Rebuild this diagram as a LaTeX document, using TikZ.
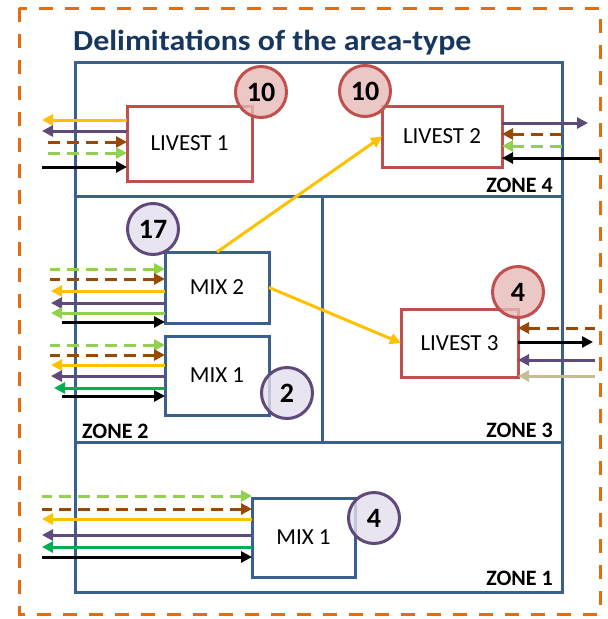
\documentclass[tikz,border=0pt]{standalone}
\usepackage{fontspec}
\setmainfont{Carlito}
\usetikzlibrary{arrows.meta}

\definecolor{zoneblue}{HTML}{3B5F8F}
\definecolor{titleblue}{HTML}{17375E}
\definecolor{livred}{HTML}{C0504D}
\definecolor{livpink}{HTML}{E6B9B8}
\definecolor{mixpur}{HTML}{5F497A}
\definecolor{mixlav}{HTML}{E4DFEC}
\definecolor{orng}{HTML}{E46C0A}
\definecolor{yel}{HTML}{FFC000}
\definecolor{pur}{HTML}{604A7B}
\definecolor{brn}{HTML}{984807}
\definecolor{lgr}{HTML}{92D050}
\definecolor{grn}{HTML}{00B050}
\definecolor{tan}{HTML}{C4BD97}

\begin{document}
\begin{tikzpicture}[x=1pt, y=-1pt,
    zone/.style={draw=zoneblue, line width=3pt},
    livbox/.style={draw=livred, line width=3pt, fill=white, outer sep=0pt,
                   font=\fontsize{23}{25}\selectfont},
    mixbox/.style={draw=zoneblue, line width=3pt, fill=white, outer sep=0pt,
                   font=\fontsize{23}{25}\selectfont},
    livnum/.style={circle, draw=livred, fill=livpink, fill opacity=0.8, text opacity=1,
                   line width=3pt, minimum size=51pt, inner sep=0pt,
                   font=\bfseries\fontsize{28}{30}\selectfont},
    mixnum/.style={circle, draw=mixpur, fill=mixlav, fill opacity=0.8, text opacity=1,
                   line width=3pt, minimum size=51pt, inner sep=0pt,
                   font=\bfseries\fontsize{28}{30}\selectfont},
    zonelbl/.style={font=\bfseries\fontsize{22}{24}\selectfont},
    outf/.style={line width=3pt, -{Triangle[length=11pt,width=11pt]}},
    inf/.style={line width=3pt, {Triangle[length=11pt,width=11pt]}-},
    dsh/.style={dash pattern=on 12pt off 7pt},
    indsh/.style={inf, dsh}]
  \useasboundingbox (0,0) rectangle (608,619);

  % area-type frame
  \draw[orng, line width=3pt, dash pattern=on 14pt off 12pt] (19,8) rectangle (600,614);
  \node[anchor=base west, inner sep=0pt, text=titleblue,
        font=\bfseries\fontsize{29}{31}\selectfont\addfontfeatures{FakeStretch=1.1}]
    (title) at (73,50) {Delimitations of the area-type};

  % zones
  \draw[zone] (75,62) rectangle (562,592);
  \draw[zone] (75,196) -- (562,196);
  \draw[zone] (322,196) -- (322,442);
  \draw[zone] (75,442) -- (562,442);
  \node[zonelbl, anchor=base east, inner sep=0pt] (z4) at (553,192) {ZONE 4};
  \node[zonelbl, anchor=base west, inner sep=0pt] (z2) at (82,438) {ZONE 2};
  \node[zonelbl, anchor=base east, inner sep=0pt] (z3) at (553,437) {ZONE 3};
  \node[zonelbl, anchor=base east, inner sep=0pt] (z1) at (553,585) {ZONE 1};

  % farms
  \node[livbox, minimum width=125pt, minimum height=75pt] (liv1) at (189.5,143.5) {LIVEST 1};
  \node[livbox, minimum width=120pt, minimum height=61pt] (liv2) at (442,136.5) {LIVEST 2};
  \node[mixbox, minimum width=104pt, minimum height=71pt] (mix2) at (217,287.5) {MIX 2};
  \node[mixbox, minimum width=104pt, minimum height=79pt] (mixa) at (217,375.5) {MIX 1};
  \node[livbox, minimum width=117pt, minimum height=68pt] (liv3) at (459.5,343) {LIVEST 3};
  \node[mixbox, minimum width=103pt, minimum height=79pt] (mixb) at (303.5,537.5) {MIX 1};

  % counts
  \node[livnum] (n1) at (261,92) {10};
  \node[livnum] (n2) at (365,91) {10};
  \node[mixnum] (n3) at (153,229) {17};
  \node[mixnum] (n4) at (287,393) {2};
  \node[livnum] (n5) at (518,292) {4};
  \node[mixnum] (n6) at (374,518) {4};

  % exchanges between farms
  \draw[outf, yel] (mix2.north) -- (liv2.west);
  \draw[outf, yel] (mix2.east) -- (liv3.west);

  % exchanges with the outside
  \foreach \yy/\cc/\ss/\ll in {120/yel/outf/85, 131/pur/outf/85, 142/brn/indsh/82,
                               153/lgr/indsh/82, 167/black/inf/85}
    \draw[\ss, color=\cc] (liv1.west |- 0,\yy) -- ++(-\ll,0);
  \foreach \yy/\cc/\ss/\ll in {123/pur/outf/86, 134/brn/indsh/66, 146/lgr/indsh/66,
                               158/black/inf/98}
    \draw[\ss, color=\cc] (liv2.east |- 0,\yy) -- ++(\ll,0);
  \foreach \yy/\cc/\ss/\ll in {269/lgr/indsh/115, 279/brn/indsh/115, 291/yel/outf/114,
                               303/pur/outf/114, 313/lgr/outf/114, 322/black/inf/103}
    \draw[\ss, color=\cc] (mix2.west |- 0,\yy) -- ++(-\ll,0);
  \foreach \yy/\cc/\ss/\ll in {345/lgr/indsh/115, 355/brn/indsh/115, 365/yel/outf/114,
                               376/pur/outf/114, 388/grn/outf/111, 396/black/inf/103}
    \draw[\ss, color=\cc] (mixa.west |- 0,\yy) -- ++(-\ll,0);
  \foreach \yy/\cc/\ss/\ll in {328/brn/indsh/77, 342/black/outf/75, 360/pur/inf/77,
                               376/tan/inf/77}
    \draw[\ss, color=\cc] (liv3.east |- 0,\yy) -- ++(\ll,0);
  \foreach \yy/\cc/\ss/\ll in {496/lgr/indsh/210, 509/brn/indsh/210, 519/yel/outf/210,
                               535/pur/outf/210, 547/grn/outf/210, 557/black/inf/210}
    \draw[\ss, color=\cc] (mixb.west |- 0,\yy) -- ++(-\ll,0);
\end{tikzpicture}
\end{document}
